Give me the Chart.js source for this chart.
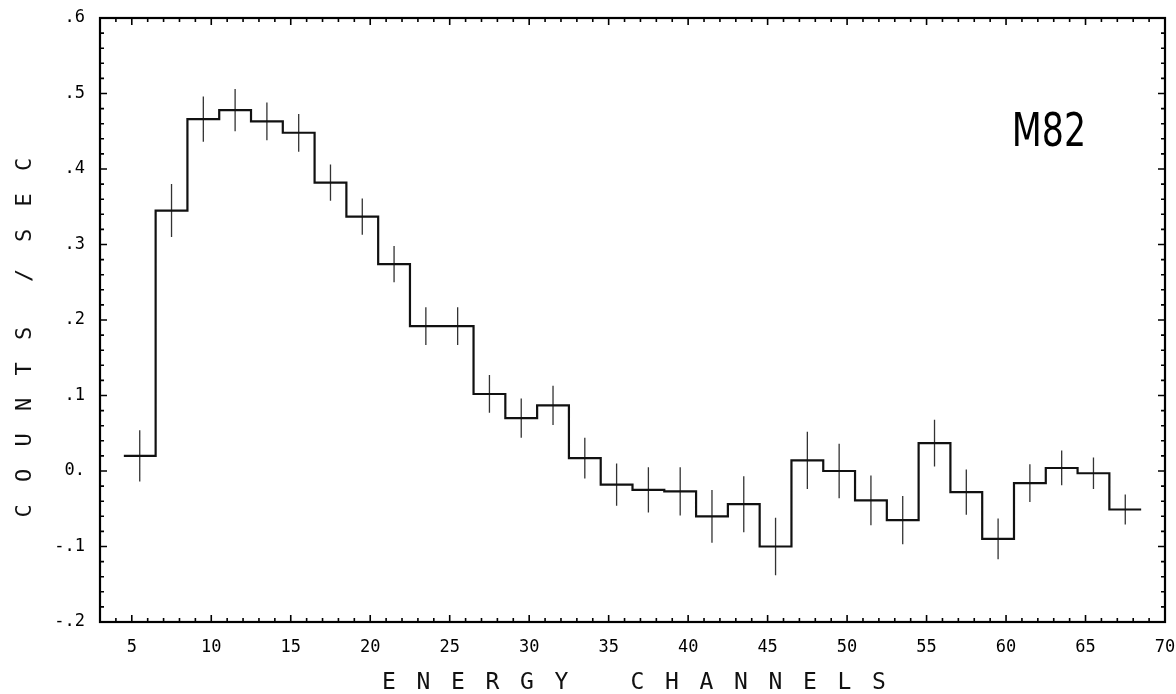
<!DOCTYPE html>
<html>
<head>
<meta charset="utf-8">
<script src="https://cdn.jsdelivr.net/npm/chart.js@4/dist/chart.umd.min.js"></script>
<style>
  html, body { margin: 0; padding: 0; background: #fff; }
  canvas { display: block; }
</style>
</head>
<body>
<canvas id="c" width="1176" height="694"></canvas>
<script>
// ---- data ----
const channels = [5.5, 7.5, 9.5, 11.5, 13.5, 15.5, 17.5, 19.5, 21.5, 23.5, 25.5, 27.5, 29.5, 31.5, 33.5, 35.5,
                  37.5, 39.5, 41.5, 43.5, 45.5, 47.5, 49.5, 51.5, 53.5, 55.5, 57.5, 59.5, 61.5, 63.5, 65.5, 67.5];
const counts = [0.020, 0.345, 0.466, 0.478, 0.463, 0.448, 0.382, 0.337, 0.274, 0.192, 0.192, 0.102, 0.070, 0.087, 0.017, -0.018,
                -0.025, -0.027, -0.060, -0.044, -0.100, 0.014, 0.000, -0.039, -0.065, 0.037, -0.028, -0.090, -0.016, 0.004, -0.003, -0.051];
const errors = [0.034, 0.035, 0.030, 0.028, 0.025, 0.025, 0.024, 0.024, 0.024, 0.025, 0.025, 0.025, 0.026, 0.026, 0.027, 0.028,
                0.030, 0.032, 0.035, 0.037, 0.038, 0.038, 0.036, 0.033, 0.032, 0.031, 0.030, 0.027, 0.025, 0.023, 0.021, 0.020];
const binWidth = 2;
const xTickValues = [5, 10, 15, 20, 25, 30, 35, 40, 45, 50, 55, 60, 65, 70];
const yTickValues = [-0.2, -0.1, 0, 0.1, 0.2, 0.3, 0.4, 0.5, 0.6];
const yTickLabels = ['-.2', '-.1', '0.', '.1', '.2', '.3', '.4', '.5', '.6'];
const sourceName = 'M82';
const xTitleWords = ['ENERGY', 'CHANNELS'];
const yTitleWords = ['COUNTS', '/', 'SEC'];

// ---- derived datasets ----
const histPoints = [];
channels.forEach((c, i) => {
  histPoints.push({ x: c - binWidth / 2, y: counts[i] });
  histPoints.push({ x: c + binWidth / 2, y: counts[i] });
});
const errPoints = [];
channels.forEach((c, i) => {
  errPoints.push({ x: c, y: counts[i] - errors[i] });
  errPoints.push({ x: c, y: counts[i] + errors[i] });
  errPoints.push({ x: c, y: null });
});

const MONO = '"DejaVu Sans Mono", "Liberation Mono", monospace';

const framePlugin = {
  id: 'frame',
  afterDraw(chart) {
    const ctx = chart.ctx, ca = chart.chartArea;
    const xs = chart.scales.x, ys = chart.scales.y;
    ctx.save();
    ctx.strokeStyle = '#000';
    // minor / major ticks (inward), x every channel
    ctx.lineWidth = 1.6;
    ctx.beginPath();
    for (let v = Math.ceil(xs.min); v <= xs.max; v++) {
      const px = xs.getPixelForValue(v);
      const len = (v % 5 === 0) ? 7 : 4;
      ctx.moveTo(px, ca.bottom); ctx.lineTo(px, ca.bottom - len);
      ctx.moveTo(px, ca.top); ctx.lineTo(px, ca.top + len);
    }
    for (let k = -10; k <= 30; k++) {
      const py = ys.getPixelForValue(k * 0.02);
      const len = (k % 5 === 0) ? 7 : 4;
      ctx.moveTo(ca.left, py); ctx.lineTo(ca.left + len, py);
      ctx.moveTo(ca.right, py); ctx.lineTo(ca.right - len, py);
    }
    ctx.stroke();
    // frame
    ctx.lineWidth = 2.2;
    ctx.strokeRect(ca.left, ca.top, ca.right - ca.left, ca.bottom - ca.top);

    ctx.fillStyle = '#111';
    // x title
    ctx.font = '23px ' + MONO;
    ctx.textAlign = 'center';
    ctx.textBaseline = 'middle';
    const pitch = 34.5, wordGap = 76;
    const nLetters = xTitleWords.join('').length;
    const span = (nLetters - xTitleWords.length) * pitch + (xTitleWords.length - 1) * wordGap;
    let x = (ca.left + ca.right) / 2 + 1.5 - span / 2;
    const ty = 683;
    xTitleWords.forEach((w, wi) => {
      if (wi > 0) x += wordGap - pitch;
      for (const ch of w) { ctx.fillText(ch, x, ty); x += pitch; }
    });
    // y title (rotated, reading bottom to top)
    ctx.save();
    ctx.translate(25, 0);
    ctx.rotate(-Math.PI / 2);
    ctx.font = '22px ' + MONO;
    let yy = ca.bottom - 111; // first letter center (screen y)
    const yPitch = 35.5;
    yTitleWords.forEach((w, wi) => {
      if (wi === 1) yy -= 58 - yPitch;
      if (wi === 2) yy -= 40 - yPitch;
      for (const ch of w) { ctx.fillText(ch, -yy, 0); yy -= yPitch; }
    });
    ctx.restore();

    // source label
    const lx = xs.getPixelForValue(62.7), ly = ys.getPixelForValue(0.430);
    ctx.save();
    ctx.translate(lx, ly);
    ctx.scale(0.74, 1);
    ctx.font = '47px "DejaVu Sans", sans-serif';
    ctx.textAlign = 'center';
    ctx.textBaseline = 'alphabetic';
    ctx.fillStyle = '#000';
    ctx.fillText(sourceName, 0, 0);
    ctx.restore();
    ctx.restore();
  }
};

new Chart(document.getElementById('c'), {
  type: 'line',
  data: {
    datasets: [
      {
        label: 'counts',
        data: histPoints,
        borderColor: '#111',
        borderWidth: 2.2,
        pointRadius: 0,
        tension: 0,
        fill: false
      },
      {
        label: 'errors',
        data: errPoints,
        borderColor: '#333',
        borderWidth: 1.3,
        pointRadius: 0,
        tension: 0,
        spanGaps: false,
        fill: false
      }
    ]
  },
  options: {
    responsive: false,
    devicePixelRatio: 1,
    animation: false,
    layout: { padding: { top: 18, right: 11, left: 0, bottom: 0 } },
    plugins: { legend: { display: false }, tooltip: { enabled: false }, title: { display: false } },
    scales: {
      x: {
        type: 'linear',
        min: 3,
        max: 70,
        afterBuildTicks: s => { s.ticks = xTickValues.map(v => ({ value: v })); },
        afterFit: s => { s.height = 72; s.paddingLeft = 0; s.paddingRight = 0; },
        grid: { display: false, drawTicks: false },
        border: { display: false },
        ticks: {
          autoSkip: false, maxRotation: 0, padding: 15, color: '#000',
          font: { family: MONO, size: 17 },
          callback: v => String(v)
        }
      },
      y: {
        type: 'linear',
        min: -0.2,
        max: 0.6,
        afterBuildTicks: s => { s.ticks = yTickValues.map(v => ({ value: v })); },
        afterFit: s => { s.width = 100; s.paddingTop = 0; s.paddingBottom = 0; },
        grid: { display: false, drawTicks: false },
        border: { display: false },
        ticks: {
          autoSkip: false, padding: 15, color: '#000',
          font: { family: MONO, size: 17 },
          callback: (v, i) => yTickLabels[i]
        }
      }
    }
  },
  plugins: [framePlugin]
});
</script>
</body>
</html>
